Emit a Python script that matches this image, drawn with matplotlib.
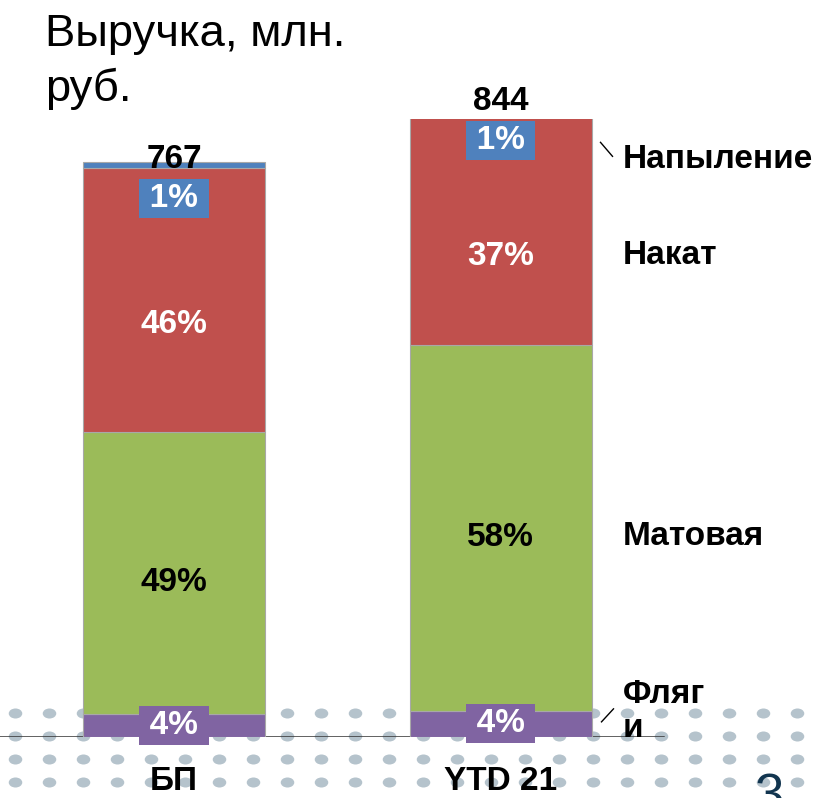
import numpy as np
import matplotlib.pyplot as plt
from matplotlib.path import Path
from matplotlib.transforms import Affine2D, IdentityTransform
from matplotlib.lines import Line2D

plt.rcParams['font.family'] = ['Liberation Sans', 'DejaVu Sans']

# выручка, млн. руб.
categories = ['БП', 'YTD 21']
totals = [767, 844]

# доли сегментов, % (снизу вверх)
series_names = ['Фляг\nи', 'Матовая', 'Накат', 'Напыление']
share_flags = [4, 4]
share_matte = [49, 58]
share_roll = [46, 37]
share_spray = [1, 1]
shares = [share_flags, share_matte, share_roll, share_spray]

colors = ['#8064a2', '#9bbb59', '#c0504d', '#4f81bd']
text_colors = ['white', 'black', 'white', 'white']
boxed = [True, False, False, True]

W, H = 823, 798
base_px, top_px = 736.5, 119
px_per_unit = 0.749
ymax = (base_px - top_px) / px_per_unit
step_px = 326.5

fig = plt.figure(figsize=(W / 100, H / 100), dpi=100)

# dotted slide background
bg = fig.add_axes([0, 0, 1, 1], zorder=0)
bg.set_xlim(0, W)
bg.set_ylim(H, 0)
bg.axis('off')
dot = Path.unit_circle().transformed(Affine2D().scale(1.35, 1.0))
gx, gy = np.meshgrid(15 + 34 * np.arange(24), [713, 735.5, 759, 782])
bg.scatter(gx.ravel(), gy.ravel(), s=95, marker=dot, color='#b5c3cc', linewidths=0)

ax = fig.add_axes([0, (H - base_px) / H, 1, (base_px - top_px) / H], zorder=1)
ax.set_xlim(-174 / step_px, 1 + (W - 500.5) / step_px)
ax.set_ylim(0, ymax)
ax.axis('off')

x = np.arange(len(categories))
bar_w = 182 / step_px
ax.axhline(0, xmin=0, xmax=663 / W, color='#333333', lw=1.8, zorder=1.5)

label_font = dict(fontsize=24, fontweight='bold')
label_shift = [0, -10, -25, -36]     # px, label position relative to segment
name_shift = [-12, -1, -1, 19]       # px, series name relative to YTD label
label_anchor = []

bottoms = np.zeros(len(categories))
for s, (share, color) in enumerate(zip(shares, colors)):
    vals = np.array(totals) * np.array(share) / 100
    ax.bar(x, vals, bar_w, bottom=bottoms, color=color,
           edgecolor='#a8a8a8', linewidth=0.8, zorder=2)
    anchors = []
    for j in range(len(categories)):
        if s == len(shares) - 1:
            ya = totals[j]
        else:
            ya = (bottoms[j] + min(bottoms[j] + vals[j], ymax)) / 2
        anchors.append(ya)
        txt = f'{share[j]}%'
        kw = {}
        if boxed[s]:
            txt = '\u2009' + txt + '\u2009'
            kw['bbox'] = dict(boxstyle='square,pad=0.12', fc=color, ec='none')
        ax.annotate(txt, (x[j], ya), xytext=(0, label_shift[s]),
                    textcoords='offset pixels', ha='center', va='center',
                    color=text_colors[s], annotation_clip=False, zorder=4,
                    **label_font, **kw)
    label_anchor.append(anchors)
    bottoms += vals

# totals above the bars
for j, t in enumerate(totals):
    ax.annotate(str(t), (x[j], t), xytext=(0, -5.5), textcoords='offset pixels',
                ha='center', va='baseline', annotation_clip=False, zorder=5,
                **label_font)

# category labels
for j, c in enumerate(categories):
    ax.annotate(c, (x[j], 0), xytext=(0, -54), textcoords='offset pixels',
                ha='center', va='baseline', annotation_clip=False, zorder=5,
                **label_font)

# series names to the right of the last bar
xr = x[-1] + bar_w / 2
leaders = {0: [(-21, -10), (-9, 3)], 3: [(-22, 17), (-10, 3)]}
for s, name in enumerate(series_names):
    offy = label_shift[s] - name_shift[s]
    ax.annotate(name, (xr, label_anchor[s][-1]), xytext=(31, offy),
                textcoords='offset pixels', ha='left', va='center',
                linespacing=1.12, annotation_clip=False, zorder=5, **label_font)
    if s in leaders:
        px, py = ax.transData.transform((xr, label_anchor[s][-1]))
        px, py = px + 31, py + offy
        (x0, y0), (x1, y1) = leaders[s]
        fig.add_artist(Line2D([px + x0, px + x1], [py + y0, py + y1],
                              transform=IdentityTransform(), color='black', lw=1))

fig.text(45 / W, 1 - 14 / H, 'Выручка, млн.\nруб.', fontsize=32.7,
         ha='left', va='top', linespacing=1.38)
fig.text(754 / W, -14 / H, '3', fontsize=38, color='#12354f',
         ha='left', va='baseline')

fig.savefig('out.png', dpi=100)
